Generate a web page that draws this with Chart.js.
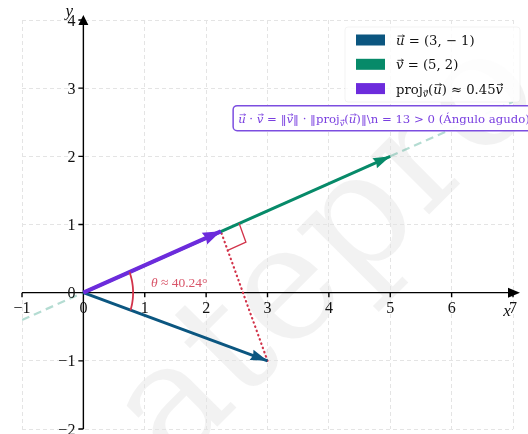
<!DOCTYPE html>
<html>
<head>
<meta charset="utf-8">
<script src="https://cdn.jsdelivr.net/npm/chart.js@4"></script>
<style>
  html, body { margin: 0; padding: 0; background: #fff; }
  #wrap { width: 528px; height: 434px; }
</style>
</head>
<body>
<div id="wrap"><canvas id="vecChart"></canvas></div>
<script>
// datos
const xTicks = [-1, 0, 1, 2, 3, 4, 5, 6, 7];
const yTicks = [-2, -1, 0, 1, 2, 3, 4];
const uVec = [3, -1];
const vVec = [5, 2];
const projVec = [2.24, 0.9];
const spanX = [-1, 7];
const spanY = [-0.4, 2.8];
const angleText = '≈ 40.24°';
const resultText = ' = 13 > 0 (Ángulo agudo)';

const SERIF = '"Liberation Serif", "DejaVu Serif", serif';
const DSERIF = '"DejaVu Serif", serif';
const colU = '#0b5680';
const colV = '#078a69';
const colP = '#6c2bdc';
const colRed = '#d2334a';

// texto con vectores (flechita encima)
function drawRuns(ctx, x, y, runs, size, color, fam) {
  let cx = x;
  runs.forEach(r => {
    const s = r.sub ? size * 0.7 : size;
    const dy = r.sub ? size * 0.28 : 0;
    ctx.font = (r.it ? 'italic ' : '') + s + 'px ' + (fam || SERIF);
    ctx.fillStyle = color;
    ctx.textAlign = 'left';
    ctx.textBaseline = 'alphabetic';
    ctx.fillText(r.t, cx, y + dy);
    const w = ctx.measureText(r.t).width;
    if (r.vec) {
      const ay = y + dy - s * 0.68;
      const x1 = cx + w * 0.2, x2 = cx + w * 1.0;
      ctx.strokeStyle = color;
      ctx.lineWidth = Math.max(0.7, s / 18);
      ctx.beginPath();
      ctx.moveTo(x1, ay); ctx.lineTo(x2, ay);
      ctx.moveTo(x2 - s * 0.16, ay - s * 0.1); ctx.lineTo(x2, ay); ctx.lineTo(x2 - s * 0.16, ay + s * 0.1);
      ctx.stroke();
    }
    cx += w;
  });
  return cx - x;
}

function arrowHead(ctx, xs, ys, from, to, color, len, half) {
  const x1 = xs.getPixelForValue(from[0]), y1 = ys.getPixelForValue(from[1]);
  const x2 = xs.getPixelForValue(to[0]), y2 = ys.getPixelForValue(to[1]);
  const a = Math.atan2(y2 - y1, x2 - x1);
  ctx.save();
  ctx.translate(x2, y2);
  ctx.rotate(a);
  ctx.fillStyle = color;
  ctx.beginPath();
  ctx.moveTo(0, 0);
  ctx.lineTo(-len, -half);
  ctx.lineTo(-len * 0.9, 0);
  ctx.lineTo(-len, half);
  ctx.closePath();
  ctx.fill();
  ctx.restore();
}

const decor = {
  id: 'decor',
  beforeDraw(chart) {
    const ctx = chart.ctx;
    ctx.save();
    ctx.fillStyle = '#fff';
    ctx.fillRect(0, 0, chart.width, chart.height);
    // marca de agua
    ctx.translate(330, 255);
    ctx.rotate(-Math.PI / 4);
    ctx.font = '160px "DejaVu Serif", serif';
    ctx.fillStyle = 'rgba(0,0,0,0.05)';
    ctx.textAlign = 'center';
    ctx.textBaseline = 'middle';
    ctx.fillText('atepro', 0, 0);
    ctx.restore();
  },
  beforeDatasetsDraw(chart) {
    const ctx = chart.ctx, xs = chart.scales.x, ys = chart.scales.y;
    const x0 = xs.getPixelForValue(0), y0 = ys.getPixelForValue(0);
    const left = xs.getPixelForValue(xs.min), right = xs.getPixelForValue(xs.max);
    const top = ys.getPixelForValue(ys.max), bottom = ys.getPixelForValue(ys.min);
    ctx.save();
    ctx.strokeStyle = '#000';
    ctx.lineWidth = 1.4;
    ctx.beginPath();
    ctx.moveTo(left, y0); ctx.lineTo(right, y0);
    ctx.moveTo(x0, bottom); ctx.lineTo(x0, top);
    xTicks.forEach(t => { const p = xs.getPixelForValue(t); ctx.moveTo(p, y0); ctx.lineTo(p, y0 + 4.5); });
    yTicks.forEach(t => { const p = ys.getPixelForValue(t); ctx.moveTo(x0, p); ctx.lineTo(x0 - 5, p); });
    ctx.stroke();
    ctx.fillStyle = '#000';
    ctx.beginPath();
    ctx.moveTo(right + 7, y0); ctx.lineTo(right - 5, y0 - 5); ctx.lineTo(right - 5, y0 + 5); ctx.closePath();
    ctx.moveTo(x0, top - 5); ctx.lineTo(x0 - 5, top + 5); ctx.lineTo(x0 + 5, top + 5); ctx.closePath();
    ctx.fill();
    ctx.restore();
  },
  afterDatasetsDraw(chart) {
    const ctx = chart.ctx, xs = chart.scales.x, ys = chart.scales.y;
    const px = v => xs.getPixelForValue(v), py = v => ys.getPixelForValue(v);
    const x0 = px(0), y0 = py(0);
    ctx.save();

    // puntas de flecha
    arrowHead(ctx, xs, ys, [0, 0], uVec, colU, 17, 5.5);
    arrowHead(ctx, xs, ys, [0, 0], vVec, colV, 17, 5.5);
    arrowHead(ctx, xs, ys, [0, 0], projVec, colP, 18, 6.5);

    // ángulo recto en la proyección
    const vl = Math.hypot(vVec[0], vVec[1]);
    const e1 = [vVec[0] / vl * 0.32, vVec[1] / vl * 0.32];
    const dx = uVec[0] - projVec[0], dy = uVec[1] - projVec[1];
    const dl = Math.hypot(dx, dy);
    const e2 = [dx / dl * 0.3, dy / dl * 0.3];
    ctx.strokeStyle = colRed;
    ctx.lineWidth = 1.3;
    ctx.beginPath();
    ctx.moveTo(px(projVec[0] + e1[0]), py(projVec[1] + e1[1]));
    ctx.lineTo(px(projVec[0] + e1[0] + e2[0]), py(projVec[1] + e1[1] + e2[1]));
    ctx.lineTo(px(projVec[0] + e2[0]), py(projVec[1] + e2[1]));
    ctx.stroke();

    // arco del ángulo
    const a1 = Math.atan2(uVec[1], uVec[0]), a2 = Math.atan2(vVec[1], vVec[0]);
    const r = 0.81;
    ctx.lineWidth = 1.8;
    ctx.beginPath();
    for (let i = 0; i <= 40; i++) {
      const t = a1 + (a2 - a1) * i / 40;
      const qx = px(r * Math.cos(t)), qy = py(r * Math.sin(t));
      if (i === 0) ctx.moveTo(qx, qy); else ctx.lineTo(qx, qy);
    }
    ctx.stroke();

    drawRuns(ctx, px(1.1), py(0.08), [{ t: 'θ', it: true }, { t: ' ' + angleText }], 13.5, '#d9566a');

    // etiquetas de ticks
    ctx.fillStyle = '#111';
    ctx.font = '16px ' + SERIF;
    ctx.textBaseline = 'alphabetic';
    ctx.textAlign = 'center';
    xTicks.forEach(t => ctx.fillText(t < 0 ? '−' + Math.abs(t) : String(t), px(t), y0 + 20));
    ctx.textAlign = 'right';
    yTicks.forEach(t => ctx.fillText(t < 0 ? '−' + Math.abs(t) : String(t), x0 - 8, py(t) + 5.5));
    ctx.font = 'italic 17px ' + SERIF;
    ctx.textAlign = 'center';
    ctx.fillText('y', x0 - 14, 16);
    ctx.fillText('x', px(xs.max) - 6, y0 + 23);

    // leyenda
    const lx = chart.chartArea.right - 168, ly = chart.chartArea.top + 7;
    ctx.fillStyle = 'rgba(255,255,255,0.85)';
    ctx.strokeStyle = 'rgba(225,225,225,0.4)';
    ctx.lineWidth = 1;
    ctx.beginPath();
    ctx.roundRect(lx, ly, 175, 75, 3);
    ctx.fill();
    ctx.stroke();
    const items = [
      [colU, [{ t: 'u', it: true, vec: true }, { t: ' = (3, − 1)' }]],
      [colV, [{ t: 'v', it: true, vec: true }, { t: ' = (5, 2)' }]],
      [colP, [{ t: 'proj' }, { t: 'v', it: true, vec: true, sub: true }, { t: '(' }, { t: 'u', it: true, vec: true },
              { t: ') ≈ 0.45' }, { t: 'v', it: true, vec: true }]]
    ];
    items.forEach((it, i) => {
      const cy = ly + 13 + i * 24.3;
      ctx.fillStyle = it[0];
      ctx.fillRect(lx + 11, cy - 5.5, 29, 11);
      drawRuns(ctx, lx + 51, cy + 5, it[1], 13.2, '#111', DSERIF);
    });

    // caja de anotación
    const bx = px(2.44), by = py(2.56);
    ctx.fillStyle = 'rgba(255,255,255,0.95)';
    ctx.strokeStyle = '#7c4ee0';
    ctx.lineWidth = 1.5;
    ctx.beginPath();
    ctx.roundRect(bx, by - 12.5, 330, 25, 4);
    ctx.fill();
    ctx.stroke();
    drawRuns(ctx, bx + 5, by + 4.5, [
      { t: 'u', it: true, vec: true }, { t: ' · ' }, { t: 'v', it: true, vec: true }, { t: ' = ‖' },
      { t: 'v', it: true, vec: true }, { t: '‖ · ‖proj' }, { t: 'v', it: true, vec: true, sub: true },
      { t: '(' }, { t: 'u', it: true, vec: true }, { t: ')‖\\n' + resultText }
    ], 11.7, '#7a40e0', DSERIF);

    ctx.restore();
  }
};

const pts = (xa, ya) => xa.map((x, i) => ({ x: x, y: ya[i] }));

new Chart(document.getElementById('vecChart'), {
  type: 'scatter',
  data: {
    datasets: [
      { label: 'proj', data: pts([0, projVec[0]], [0, projVec[1]]), borderColor: colP, borderWidth: 4.2, order: 0 },
      { label: 'u', data: pts([0, uVec[0]], [0, uVec[1]]), borderColor: colU, borderWidth: 3, order: 1 },
      { label: 'v', data: pts([0, vVec[0]], [0, vVec[1]]), borderColor: colV, borderWidth: 3, order: 2 },
      { label: 'perp', data: pts([uVec[0], projVec[0]], [uVec[1], projVec[1]]), borderColor: colRed,
        borderWidth: 2.2, borderDash: [0.5, 4], borderCapStyle: 'round', order: 3 },
      { label: 'span', data: pts(spanX, spanY), borderColor: 'rgba(7,138,105,0.3)', borderWidth: 2.2,
        borderDash: [8, 5], order: 4 }
    ].map(d => Object.assign({ showLine: true, pointRadius: 0, pointHoverRadius: 0, fill: false, tension: 0 }, d))
  },
  options: {
    responsive: true,
    maintainAspectRatio: false,
    animation: false,
    events: [],
    layout: { padding: { left: 22, right: 15, top: 20, bottom: 5 } },
    plugins: { legend: { display: false }, tooltip: { enabled: false } },
    scales: {
      x: {
        type: 'linear', min: -1, max: 7,
        ticks: { stepSize: 1, display: false },
        grid: { color: '#e4e4e4', lineWidth: 1, drawTicks: false },
        border: { display: false, dash: [4, 3] }
      },
      y: {
        type: 'linear', min: -2, max: 4,
        ticks: { stepSize: 1, display: false },
        grid: { color: '#e4e4e4', lineWidth: 1, drawTicks: false },
        border: { display: false, dash: [4, 3] }
      }
    }
  },
  plugins: [decor]
});
</script>
</body>
</html>
